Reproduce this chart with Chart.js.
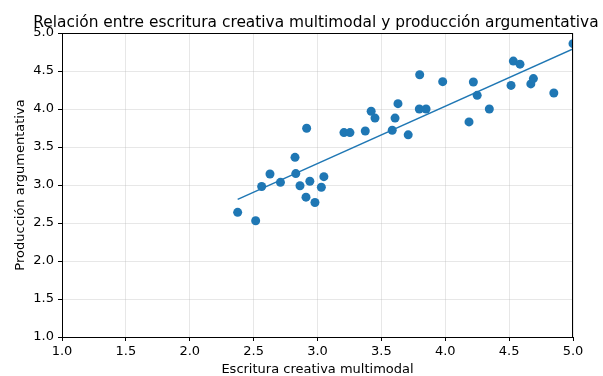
<!DOCTYPE html>
<html>
<head>
<meta charset="utf-8">
<script src="https://cdn.jsdelivr.net/npm/chart.js@4.4.0/dist/chart.umd.min.js"></script>
<style>
  html, body { margin: 0; padding: 0; background: #fff; }
  #wrap { width: 603px; height: 376px; }
</style>
</head>
<body>
<div id="wrap"><canvas id="scatterChart" width="603" height="376"></canvas></div>
<script>
// puntajes
const escritura = [2.375, 2.516, 2.563, 2.628, 2.71, 2.824, 2.83, 2.863, 2.915, 2.91, 2.94, 2.98, 3.03, 3.05,
  3.207, 3.254, 3.374, 3.42, 3.45, 3.585, 3.607, 3.63, 3.71, 3.797, 3.80, 3.85, 3.98, 4.186, 4.22, 4.25,
  4.345, 4.515, 4.533, 4.585, 4.67, 4.69, 4.85, 5.0];
const argumentativa = [2.64, 2.53, 2.98, 3.145, 3.035, 3.364, 3.15, 2.99, 3.746, 2.84, 3.05, 2.77, 2.97, 3.11,
  3.69, 3.69, 3.71, 3.97, 3.88, 3.72, 3.88, 4.07, 3.66, 4.00, 4.45, 4.00, 4.36, 3.83, 4.355, 4.18,
  4.00, 4.31, 4.63, 4.59, 4.33, 4.40, 4.21, 4.86];
// recta de ajuste
const ajusteX = [2.375, 5.0];
const ajusteY = [2.81, 4.79];
const ticksEje = [1.0, 1.5, 2.0, 2.5, 3.0, 3.5, 4.0, 4.5, 5.0];

const titulo = 'Relación entre escritura creativa multimodal y producción argumentativa';
const FONT = "'DejaVu Sans', sans-serif";

const puntos = escritura.map((x, i) => ({ x: x, y: argumentativa[i] }));
const linea = ajusteX.map((x, i) => ({ x: x, y: ajusteY[i] }));

// marco completo + título centrado sobre el área
const marco = {
  id: 'marco',
  afterDraw(chart) {
    const { ctx, chartArea: a } = chart;
    ctx.save();
    ctx.strokeStyle = '#000';
    ctx.lineWidth = 1;
    ctx.strokeRect(a.left + 0.5, a.top + 0.5, a.right - a.left - 1, a.bottom - a.top);
    ctx.fillStyle = '#000';
    ctx.font = '15.4px ' + FONT;
    ctx.textAlign = 'center';
    ctx.textBaseline = 'alphabetic';
    ctx.fillText(titulo, (a.left + a.right) / 2 - 1.5, 26.5);
    ctx.restore();
  }
};

const ctx = document.getElementById('scatterChart').getContext('2d');
new Chart(ctx, {
  type: 'scatter',
  data: {
    datasets: [{
      data: puntos,
      backgroundColor: '#1f77b4',
      borderColor: '#1f77b4',
      pointRadius: 4.5,
      borderWidth: 0,
      order: 2
    }, {
      type: 'line',
      data: linea,
      borderColor: '#1f77b4',
      borderWidth: 1.5,
      pointRadius: 0,
      fill: false,
      order: 1
    }]
  },
  options: {
    responsive: false,
    animation: false,
    layout: { padding: { top: 33, right: 30, left: 0, bottom: 0 } },
    plugins: { legend: { display: false }, tooltip: { enabled: false } },
    scales: {
      x: {
        type: 'linear', min: 1, max: 5,
        afterBuildTicks: s => { s.ticks = ticksEje.map(v => ({ value: v })); },
        afterFit: s => { s.height = 376 - 337; },
        ticks: { color: '#000', font: { family: FONT, size: 13 }, padding: 3, callback: v => v.toFixed(1), maxRotation: 0 },
        grid: { color: 'rgba(176,176,176,0.3)', tickColor: '#000', tickLength: 4 },
        border: { color: '#000' },
        title: { display: true, text: 'Escritura creativa multimodal', color: '#000', font: { family: FONT, size: 13, lineHeight: 1 }, padding: { top: 1, bottom: 0 } }
      },
      y: {
        type: 'linear', min: 1, max: 5,
        afterBuildTicks: s => { s.ticks = ticksEje.map(v => ({ value: v })); },
        afterFit: s => { s.width = 62; },
        ticks: { color: '#000', font: { family: FONT, size: 13 }, padding: 4, callback: v => v.toFixed(1) },
        grid: { color: 'rgba(176,176,176,0.3)', tickColor: '#000', tickLength: 4 },
        border: { color: '#000' },
        title: { display: true, text: 'Producción argumentativa', color: '#000', font: { family: FONT, size: 13 }, padding: { top: 13, bottom: 0 } }
      }
    }
  },
  plugins: [marco]
});
</script>
</body>
</html>
